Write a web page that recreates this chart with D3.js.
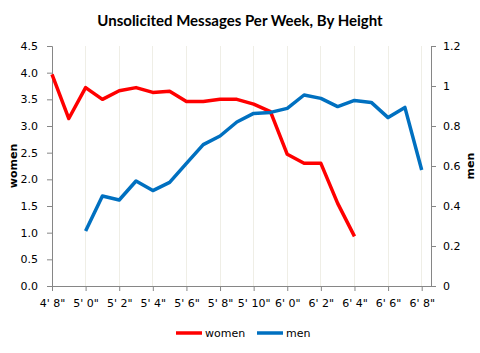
<!DOCTYPE html>
<html><head><meta charset="utf-8">
<script src="https://cdn.jsdelivr.net/npm/d3@7"></script>
<style>body{margin:0;background:#fff}</style>
</head><body>
<svg id="c" width="480" height="353"></svg>
<script>
const categories = ["4' 8\"","4' 11\"","5' 0\"","5' 1\"","5' 2\"","5' 3\"","5' 4\"","5' 5\"","5' 6\"","5' 7\"","5' 8\"","5' 9\"","5' 10\"","5' 11\"","6' 0\"","6' 1\"","6' 2\"","6' 3\"","6' 4\"","6' 5\"","6' 6\"","6' 7\"","6' 8\""];
const women = [3.97,3.14,3.72,3.50,3.66,3.72,3.63,3.65,3.46,3.46,3.50,3.50,3.41,3.27,2.47,2.30,2.30,1.55,0.93,null,null,null,null];
const men = [null,null,0.275,0.45,0.43,0.525,0.477,0.518,0.613,0.707,0.75,0.82,0.863,0.868,0.888,0.955,0.938,0.897,0.928,0.918,0.842,0.893,0.58];
const leftTicks = [0,0.5,1,1.5,2,2.5,3,3.5,4,4.5];
const rightTicks = [0,0.2,0.4,0.6,0.8,1,1.2];

const svg = d3.select("#c");
const L=52, R=431, T=46, B=286;
const x = d3.scaleLinear().domain([0,categories.length-1]).range([L,421.7]);
const yL = d3.scaleLinear().domain([0,4.5]).range([B,T]);
const yR = d3.scaleLinear().domain([0,1.2]).range([B,T]);
const font = "'DejaVu Sans', Verdana, sans-serif";
const axisCol = "#868686";

// gridlines
const labelIdx = categories.map((c,i)=>i).filter(i=>i%2===0);
svg.append("g").selectAll("line").data(labelIdx.filter(i=>i>0)).join("line")
  .attr("x1",d=>x(d)).attr("x2",d=>x(d)).attr("y1",T).attr("y2",B)
  .attr("stroke","#efeee6").attr("stroke-width",1).attr("shape-rendering","crispEdges");

// left axis
const gl = svg.append("g").attr("transform",`translate(${L},0)`)
  .call(d3.axisLeft(yL).tickValues(leftTicks).tickFormat(d3.format(".1f")).tickSize(5).tickPadding(9));
// right axis
const gr = svg.append("g").attr("transform",`translate(${R},0)`)
  .call(d3.axisRight(yR).tickValues(rightTicks).tickFormat(d=>d===0||d===1?String(d):d3.format(".1f")(d)).tickSize(5).tickPadding(7));
// bottom axis
const gb = svg.append("g").attr("transform",`translate(0,${B})`)
  .call(d3.axisBottom(x).tickValues(labelIdx).tickFormat(i=>categories[i]).tickSize(5).tickPadding(8));
gb.select(".domain").remove();
svg.append("line").attr("x1",L).attr("x2",R).attr("y1",B+0.5).attr("y2",B+0.5).attr("stroke",axisCol);

[gl,gr,gb].forEach(g=>{
  g.selectAll(".domain").attr("stroke",axisCol);
  g.selectAll(".tick line").attr("stroke",axisCol);
  g.selectAll("text").attr("font-family",font).attr("font-size","11px").attr("fill","#000");
});

// lines
const lw = d3.line().defined(d=>d!=null).x((d,i)=>x(i)).y(d=>yL(d));
const lm = d3.line().defined(d=>d!=null).x((d,i)=>x(i)).y(d=>yR(d));
svg.append("path").datum(women).attr("d",lw).attr("fill","none").attr("stroke","#ff0000").attr("stroke-width",3.5).attr("stroke-linejoin","round");
svg.append("path").datum(men).attr("d",lm).attr("fill","none").attr("stroke","#0070c0").attr("stroke-width",3.5).attr("stroke-linejoin","round");

// title
svg.append("text").attr("x",240).attr("y",26).attr("text-anchor","middle")
  .attr("font-family","Lato, 'Open Sans', sans-serif").attr("font-weight","bold").attr("font-size","15px")
  .text("Unsolicited Messages Per Week, By Height");
// axis titles
svg.append("text").attr("transform","translate(17,166) rotate(-90)").attr("text-anchor","middle")
  .attr("font-family",font).attr("font-weight","bold").attr("font-size","11px").text("women");
svg.append("text").attr("transform","translate(474,166) rotate(-90)").attr("text-anchor","middle")
  .attr("font-family",font).attr("font-weight","bold").attr("font-size","11px").text("men");

// legend
const leg = [{n:"women",c:"#ff0000",x:176},{n:"men",c:"#0070c0",x:257}];
const lg = svg.append("g");
lg.selectAll("line").data(leg).join("line").attr("x1",d=>d.x).attr("x2",d=>d.x+26).attr("y1",333).attr("y2",333)
  .attr("stroke",d=>d.c).attr("stroke-width",3.5);
lg.selectAll("text").data(leg).join("text").attr("x",d=>d.x+29).attr("y",337).attr("font-family",font).attr("font-size","11px").text(d=>d.n);
</script>
</body></html>
